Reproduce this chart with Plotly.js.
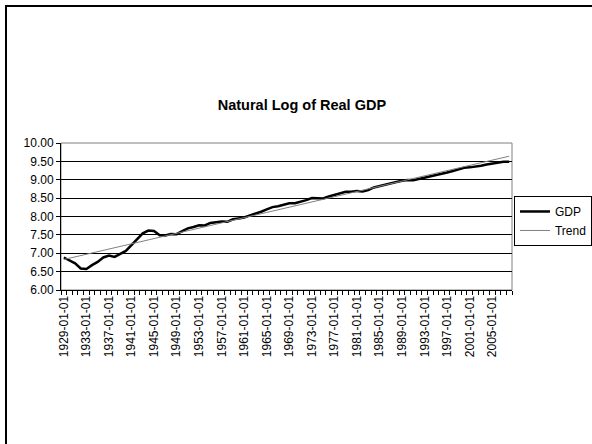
<!DOCTYPE html>
<html>
<head>
<meta charset="utf-8">
<script src="https://cdn.plot.ly/plotly-3.0.1.min.js"></script>
<style>
html,body{margin:0;padding:0;background:#fff;overflow:hidden;}
#wrap{position:relative;width:592px;height:444px;overflow:hidden;}
#chart{position:absolute;left:0;top:0;width:592px;height:444px;}
#frame{position:absolute;left:5px;top:5px;width:587px;height:439px;border-top:2px solid #000;border-left:2px solid #000;pointer-events:none;box-sizing:border-box;}
</style>
</head>
<body>
<div id="wrap"><div id="chart"></div><div id="frame"></div></div>
<script>
var years = ["1929-01-01","1930-01-01","1931-01-01","1932-01-01","1933-01-01","1934-01-01","1935-01-01","1936-01-01","1937-01-01","1938-01-01",
"1939-01-01","1940-01-01","1941-01-01","1942-01-01","1943-01-01","1944-01-01","1945-01-01","1946-01-01","1947-01-01","1948-01-01",
"1949-01-01","1950-01-01","1951-01-01","1952-01-01","1953-01-01","1954-01-01","1955-01-01","1956-01-01","1957-01-01","1958-01-01",
"1959-01-01","1960-01-01","1961-01-01","1962-01-01","1963-01-01","1964-01-01","1965-01-01","1966-01-01","1967-01-01","1968-01-01",
"1969-01-01","1970-01-01","1971-01-01","1972-01-01","1973-01-01","1974-01-01","1975-01-01","1976-01-01","1977-01-01","1978-01-01",
"1979-01-01","1980-01-01","1981-01-01","1982-01-01","1983-01-01","1984-01-01","1985-01-01","1986-01-01","1987-01-01","1988-01-01",
"1989-01-01","1990-01-01","1991-01-01","1992-01-01","1993-01-01","1994-01-01","1995-01-01","1996-01-01","1997-01-01","1998-01-01",
"1999-01-01","2000-01-01","2001-01-01","2002-01-01","2003-01-01","2004-01-01","2005-01-01","2006-01-01","2007-01-01","2008-01-01"];

var gdp = [6.884,6.794,6.727,6.587,6.573,6.676,6.765,6.885,6.935,6.900,
6.977,7.062,7.220,7.389,7.541,7.618,7.607,7.491,7.482,7.525,
7.520,7.604,7.678,7.716,7.761,7.755,7.824,7.844,7.864,7.855,
7.924,7.948,7.972,8.030,8.073,8.129,8.192,8.255,8.280,8.327,
8.358,8.359,8.392,8.444,8.501,8.495,8.493,8.545,8.590,8.644,
8.675,8.672,8.697,8.678,8.722,8.791,8.832,8.866,8.898,8.938,
8.973,8.992,8.989,9.023,9.051,9.091,9.115,9.152,9.196,9.238,
9.285,9.326,9.337,9.355,9.379,9.414,9.445,9.471,9.490,9.490];

var trend = [6.830,6.866,6.901,6.937,6.972,7.008,7.043,7.079,7.115,7.150,
7.186,7.221,7.257,7.292,7.328,7.364,7.399,7.435,7.470,7.506,
7.541,7.577,7.613,7.648,7.684,7.719,7.755,7.790,7.826,7.862,
7.897,7.933,7.968,8.004,8.039,8.075,8.111,8.146,8.182,8.217,
8.253,8.288,8.324,8.360,8.395,8.431,8.466,8.502,8.537,8.573,
8.609,8.644,8.680,8.715,8.751,8.786,8.822,8.857,8.893,8.929,
8.964,9.000,9.035,9.071,9.106,9.142,9.178,9.213,9.249,9.284,
9.320,9.355,9.391,9.427,9.462,9.498,9.533,9.569,9.604,9.640];

var yTicks = [6.0,6.5,7.0,7.5,8.0,8.5,9.0,9.5,10.0];
var yTickText = ["6.00","6.50","7.00","7.50","8.00","8.50","9.00","9.50","10.00"];

var xTickText = years.map(function(y,i){ return i % 4 === 0 ? y : ""; });

var FONT = "Liberation Sans, Arial, sans-serif";

var traces = [
  {x: years, y: gdp, name: "GDP", type: "scatter", mode: "lines",
   line: {color: "#000000", width: 2.5}},
  {x: years, y: trend, name: "Trend", type: "scatter", mode: "lines",
   line: {color: "#808080", width: 1}}
];

var layout = {
  width: 592, height: 444,
  paper_bgcolor: "rgba(0,0,0,0)", plot_bgcolor: "#ffffff",
  margin: {l: 61, r: 80, t: 143, b: 154, pad: 0},
  showlegend: true,
  font: {family: FONT, size: 12, color: "#000"},
  title: {text: "<b>Natural Log of Real GDP</b>", font: {family: FONT, size: 14.5, color: "#000"},
          xref: "container", yref: "container", x: 0.51, xanchor: "center", y: 0.7635, yanchor: "middle"},
  xaxis: {type: "category", categoryorder: "array", categoryarray: years,
          range: [-0.5, years.length - 0.5], tickmode: "array", tickvals: years, ticktext: xTickText,
          tickson: "boundaries", ticks: "outside", ticklen: 4, tickwidth: 1, tickcolor: "#000",
          tickangle: -90, tickfont: {family: FONT, size: 12, color: "#000"},
          showgrid: false, zeroline: false, showline: true, linecolor: "#000", linewidth: 1,
          automargin: false, fixedrange: true},
  yaxis: {range: [6, 10], tickmode: "array", tickvals: yTicks, ticktext: yTickText,
          ticks: "outside", ticklen: 4, tickwidth: 1, tickcolor: "#000",
          tickfont: {family: FONT, size: 12, color: "#000"},
          showgrid: true, gridcolor: "#000", gridwidth: 1, zeroline: false,
          showline: true, linecolor: "#000", linewidth: 1, automargin: false, fixedrange: true},
  shapes: [{type: "rect", xref: "paper", yref: "paper", x0: 0, x1: 1, y0: 0, y1: 1,
            line: {color: "#808080", width: 1}, layer: "below"}],
  legend: {xref: "container", yref: "container", x: 0.8682, xanchor: "left", y: 0.5586, yanchor: "top",
           bgcolor: "#fff", bordercolor: "#000", borderwidth: 1,
           font: {family: FONT, size: 12, color: "#000"},
           itemwidth: 30, tracegroupgap: 0}
};

Plotly.newPlot("chart", traces, layout, {displayModeBar: false, staticPlot: true});
</script>
</body>
</html>
